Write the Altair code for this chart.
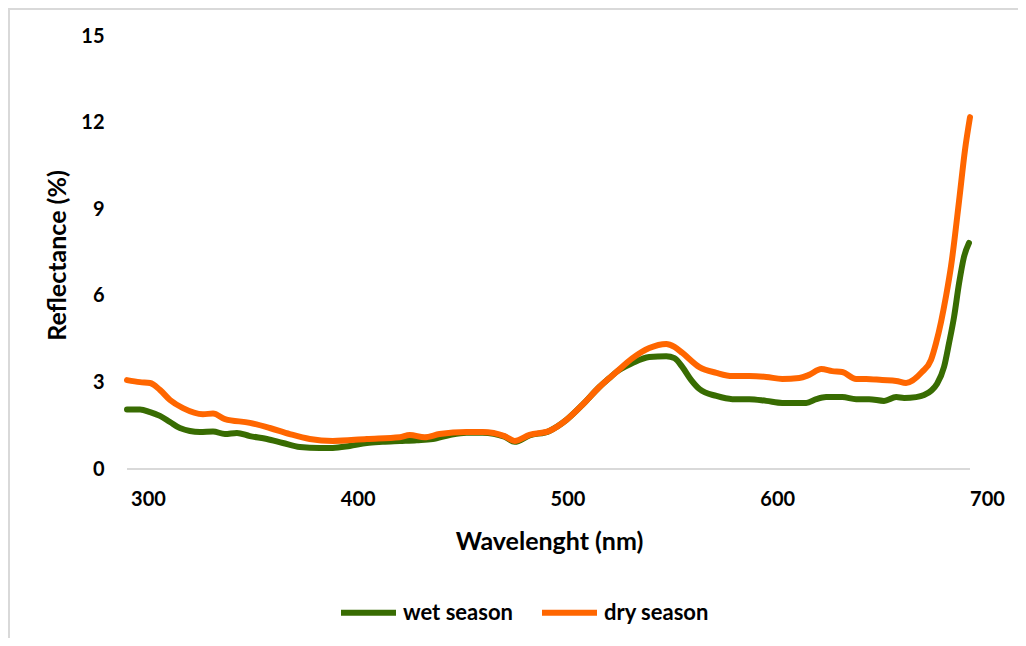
import altair as alt
import pandas as pd

# wavelengths (nm) and reflectance (%)
wl_wet = [290.0, 296.2, 301.0, 305.7, 310.5, 315.2, 324.8, 331.0, 336.7, 342.4, 348.6,
          356.7, 364.3, 372.4, 381.9, 388.1, 396.2, 404.3, 411.9, 420.0, 428.1, 435.7,
          443.8, 451.9, 459.5, 470.0, 474.8, 481.9, 491.4, 499.5, 507.1, 515.2, 520.0,
          523.3, 531.0, 539.0, 547.1, 551.0, 554.8, 559.0, 562.9, 571.0, 578.6, 586.7,
          594.8, 602.4, 610.5, 613.8, 618.6, 623.3, 631.0, 637.6, 643.8, 650.9, 656.7,
          660.5, 666.2, 670.0, 673.5, 676.2, 679.5, 681.9, 684.3, 686.7, 689.0, 691.4]
wet = [2.06, 2.06, 1.97, 1.84, 1.63, 1.42, 1.28, 1.30, 1.21, 1.25, 1.14,
       1.04, 0.90, 0.76, 0.73, 0.73, 0.80, 0.90, 0.94, 0.97, 1.00, 1.04,
       1.18, 1.26, 1.26, 1.12, 0.94, 1.16, 1.32, 1.70, 2.22, 2.84, 3.15,
       3.36, 3.67, 3.88, 3.91, 3.84, 3.53, 3.08, 2.77, 2.53, 2.42, 2.42,
       2.36, 2.29, 2.29, 2.29, 2.42, 2.49, 2.49, 2.42, 2.42, 2.36, 2.49,
       2.46, 2.49, 2.56, 2.72, 2.95, 3.53, 4.36, 5.27, 6.44, 7.34, 7.83]

wl_dry = [290.0, 296.2, 301.0, 305.7, 310.5, 316.7, 326.2, 331.0, 336.7, 348.6, 358.1,
          367.6, 377.1, 388.1, 404.3, 420.0, 424.8, 431.9, 439.0, 451.9, 459.5, 470.0,
          474.8, 481.9, 491.4, 499.5, 507.1, 515.2, 523.3, 531.0, 539.0, 547.1, 551.0,
          554.8, 562.9, 571.0, 578.6, 586.7, 594.8, 602.4, 610.5, 615.2, 621.0, 626.2,
          631.0, 637.6, 642.4, 650.0, 656.7, 661.4, 669.0, 673.3, 675.7, 678.1, 680.5,
          682.9, 686.7, 689.5, 691.9]
dry = [3.08, 3.01, 2.98, 2.74, 2.39, 2.11, 1.90, 1.92, 1.73, 1.60, 1.42,
       1.21, 1.04, 0.97, 1.04, 1.10, 1.18, 1.10, 1.21, 1.28, 1.28, 1.14,
       0.97, 1.18, 1.32, 1.70, 2.22, 2.84, 3.36, 3.84, 4.19, 4.33, 4.23,
       4.02, 3.53, 3.33, 3.22, 3.22, 3.19, 3.12, 3.15, 3.26, 3.46, 3.39,
       3.36, 3.12, 3.12, 3.08, 3.05, 2.98, 3.36, 3.78, 4.36, 5.10, 6.00,
       7.05, 9.30, 11.05, 12.19]

series = ["wet season", "dry season"]
colors = ["#386C02", "#FF6600"]
x_ticks = [300, 400, 500, 600, 700]
y_ticks = [0, 3, 6, 9, 12, 15]

df_wet = pd.DataFrame({"wl": wl_wet, "r": wet, "s": series[0]})
df_dry = pd.DataFrame({"wl": wl_dry, "r": dry, "s": series[1]})
df_base = pd.DataFrame({"x": [min(wl_dry)], "x2": [max(wl_dry)], "y": [0]})

FONT = "Lato"

xenc = alt.X("wl:Q",
             scale=alt.Scale(domain=[290, 700], nice=False, zero=False),
             axis=alt.Axis(values=x_ticks, title="Wavelenght (nm)", grid=False,
                           domain=False, ticks=False, labelFlush=False,
                           labelFont=FONT, labelFontSize=20, labelFontWeight="bold",
                           labelColor="black", labelPadding=20,
                           titleFont=FONT, titleFontSize=25, titleFontWeight="bold",
                           titleColor="black", titleX=422, titleY=72,
                           titleBaseline="middle"))
yenc = alt.Y("r:Q",
             scale=alt.Scale(domain=[0, 15], nice=False),
             axis=alt.Axis(values=y_ticks, title="Reflectance (%)", grid=False,
                           domain=False, ticks=False,
                           labelFont=FONT, labelFontSize=20, labelFontWeight="bold",
                           labelColor="black", labelPadding=23,
                           titleFont=FONT, titleFontSize=25, titleFontWeight="bold",
                           titleColor="black", titleX=-70, titleY=219,
                           titleBaseline="middle"))
cenc = alt.Color("s:N",
                 scale=alt.Scale(domain=series, range=colors),
                 legend=alt.Legend(title=None, orient="none", direction="horizontal",
                                   legendX=211, legendY=546,
                                   symbolType="stroke", symbolSize=3025,
                                   symbolStrokeWidth=6, labelOffset=4,
                                   columnPadding=17,
                                   labelFont=FONT, labelFontSize=22,
                                   labelFontWeight="bold", labelColor="black"))

border = alt.Chart(pd.DataFrame({"a": [0]})).mark_rect(
    fillOpacity=0, stroke="#d9d9d9", strokeWidth=2
).encode(x=alt.value(-118), x2=alt.value(900), y=alt.value(-27), y2=alt.value(640))

base = alt.Chart(df_base).mark_rule(color="#d9d9d9", strokeWidth=2).encode(
    x=alt.X("x:Q", scale=alt.Scale(domain=[290, 700], nice=False, zero=False)),
    x2="x2:Q",
    y=alt.Y("y:Q"))

line_wet = alt.Chart(df_wet).mark_line(strokeWidth=6, interpolate="monotone",
                                       strokeCap="round", strokeJoin="round").encode(
    x=xenc, y=yenc, color=cenc)
line_dry = alt.Chart(df_dry).mark_line(strokeWidth=6, interpolate="monotone",
                                       strokeCap="round", strokeJoin="round").encode(
    x=xenc, y=yenc, color=cenc)

chart = alt.layer(border, base, line_wet, line_dry).properties(
    width=860, height=433,
    autosize=alt.AutoSizeParams(type="none"),
    padding={"left": 119, "top": 28, "right": 31, "bottom": 169},
).configure_view(stroke=None)

chart.save("out.html", embed_options={"renderer": "svg", "actions": False})
